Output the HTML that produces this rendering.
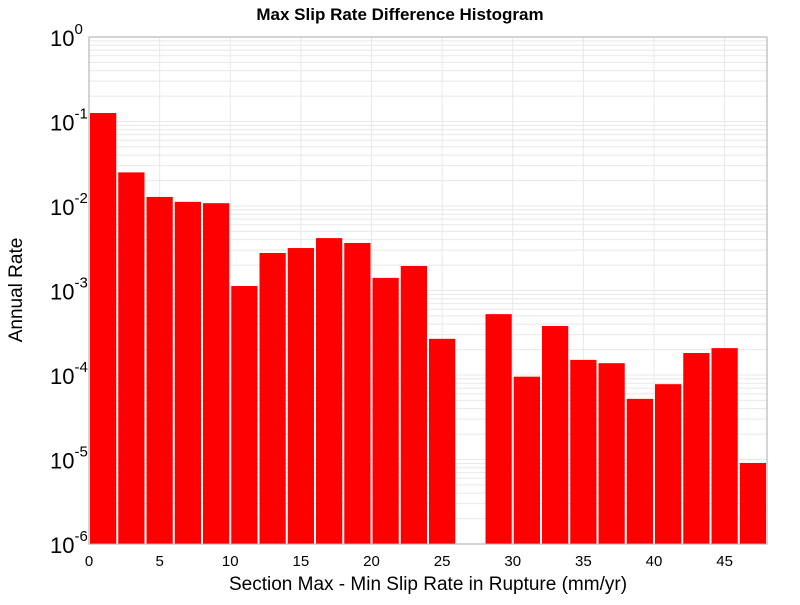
<!DOCTYPE html>
<html><head><meta charset="utf-8"><style>
body{margin:0;background:#fff;}
svg text{font-family:"Liberation Sans","DejaVu Sans",sans-serif;}
</style></head><body>
<svg id="chart" width="800" height="600">
<text x="400" y="20" text-anchor="middle" font-size="17" font-weight="bold">Max Slip Rate Difference Histogram</text>
<g id="grid"></g>
<g id="bars"></g>
<rect x="89" y="37" width="678" height="507" fill="none" stroke="#aaa"/>
<g id="xticks"></g>
<g id="yticks"></g>
<text x="428" y="590" text-anchor="middle" font-size="19">Section Max - Min Slip Rate in Rupture (mm/yr)</text>
<text transform="translate(22,290) rotate(-90)" text-anchor="middle" font-size="19">Annual Rate</text>
</svg>
<script>
const binStarts=[0,2,4,6,8,10,12,14,16,18,20,22,24,26,28,30,32,34,36,38,40,42,44,46];
const rates=[0.126,0.025,0.0128,0.0112,0.0108,0.00113,0.00278,0.00318,0.00417,0.00365,0.00141,0.00195,0.000268,0,0.000525,0.0000955,0.00038,0.000151,0.000138,0.0000522,0.0000779,0.000182,0.000208,0.0000091];
const xTicks=[0,5,10,15,20,25,30,35,40,45];
const yExps=[0,-1,-2,-3,-4,-5,-6];
const binWidth=2;
const X0=89,X1=767,Y0=37,Y1=544,xMin=0,xMax=48,lMin=-6,lMax=0;
const ns="http://www.w3.org/2000/svg";
function sx(v){return X0+(v-xMin)/(xMax-xMin)*(X1-X0);}
function sy(v){return Y0+(lMax-Math.log10(v))/(lMax-lMin)*(Y1-Y0);}
function mk(t,a,p){const e=document.createElementNS(ns,t);for(const k in a)e.setAttribute(k,a[k]);p.appendChild(e);return e;}
const grid=document.getElementById('grid');
for(let e=lMin;e<lMax;e++){for(let m=1;m<10;m++){const y=sy(m*Math.pow(10,e));
const l=mk('line',{x1:X0,x2:X1,y1:y,y2:y,stroke:'#e8e8e8','stroke-width':1},grid);

}}
xTicks.forEach(t=>{const x=sx(t);
const l=mk('line',{x1:x,x2:x,y1:Y0,y2:Y1,stroke:'#e8e8e8'},grid);


const tx=mk('text',{x:x,y:566,'text-anchor':'middle','font-size':15},document.getElementById('xticks'));
tx.textContent=t;

});
const bars=document.getElementById('bars');
binStarts.forEach((b,i)=>{const v=rates[i];if(!(v>0))return;
const x=sx(b)+1,w=sx(b+binWidth)-sx(b)-2,y=sy(v);
const r=mk('rect',{x:x,y:y,width:w,height:Y1-y,fill:'#ff0000'},bars);

});
const yt=document.getElementById('yticks');
yExps.forEach(e=>{const y=sy(Math.pow(10,e));
const t=mk('text',{x:50,y:y+9,'font-size':22},yt);
t.innerHTML='10<tspan dy="-12" font-size="15">'+e+'</tspan>';

});
</script>
</body></html>
